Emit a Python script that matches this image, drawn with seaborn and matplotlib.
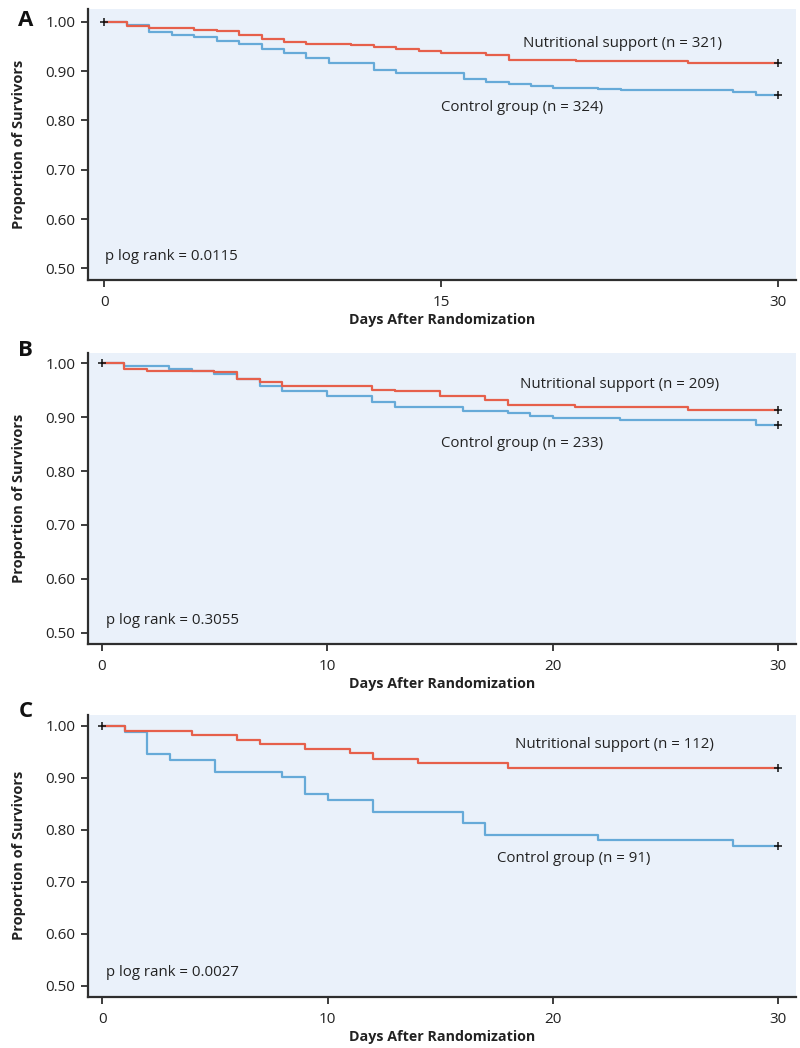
import numpy as np
import pandas as pd
import matplotlib
matplotlib.use("Agg")
import matplotlib.pyplot as plt
import seaborn as sns

# ---------------- data ----------------
# Panel A
a_nut_days = [0, 1, 2, 4, 5, 6, 7, 8, 9, 11, 12, 13, 14, 15, 17, 18, 21, 26, 30]
a_nut_surv = [1.0, 0.992, 0.987, 0.983, 0.981, 0.973, 0.965, 0.959, 0.955, 0.953, 0.948,
              0.944, 0.940, 0.936, 0.932, 0.922, 0.920, 0.916, 0.916]
a_ctl_days = [0, 1, 2, 3, 4, 5, 6, 7, 8, 9, 10, 12, 13, 16, 17, 18, 19, 20, 22, 23, 28, 29, 30]
a_ctl_surv = [1.0, 0.994, 0.979, 0.974, 0.968, 0.960, 0.955, 0.944, 0.936, 0.926, 0.917,
              0.902, 0.896, 0.883, 0.878, 0.873, 0.869, 0.866, 0.863, 0.861, 0.857, 0.852, 0.852]
# Panel B
b_nut_days = [0, 1, 2, 5, 6, 7, 8, 12, 13, 15, 17, 18, 21, 26, 30]
b_nut_surv = [1.0, 0.990, 0.986, 0.983, 0.971, 0.966, 0.957, 0.951, 0.948, 0.939, 0.932,
              0.923, 0.919, 0.913, 0.913]
b_ctl_days = [0, 1, 3, 4, 5, 6, 7, 8, 10, 12, 13, 16, 18, 19, 20, 23, 29, 30]
b_ctl_surv = [1.0, 0.995, 0.989, 0.985, 0.980, 0.971, 0.957, 0.948, 0.940, 0.928, 0.919, 0.911,
              0.907, 0.903, 0.898, 0.894, 0.885, 0.885]
# Panel C
c_nut_days = [0, 1, 4, 6, 7, 9, 11, 12, 14, 18, 30]
c_nut_surv = [1.0, 0.990, 0.983, 0.972, 0.965, 0.956, 0.948, 0.937, 0.929, 0.919, 0.919]
c_ctl_days = [0, 1, 2, 3, 5, 8, 9, 10, 12, 16, 17, 22, 28, 30]
c_ctl_surv = [1.0, 0.988, 0.945, 0.934, 0.912, 0.901, 0.868, 0.858, 0.834, 0.813, 0.791,
              0.780, 0.769, 0.769]

panel_letters = ["A", "B", "C"]
nut_labels = ["Nutritional support (n = 321)", "Nutritional support (n = 209)",
              "Nutritional support (n = 112)"]
ctl_labels = ["Control group (n = 324)", "Control group (n = 233)", "Control group (n = 91)"]
p_labels = ["p log rank = 0.0115", "p log rank = 0.3055", "p log rank = 0.0027"]
x_ticks = [[0, 15, 30], [0, 10, 20, 30], [0, 10, 20, 30]]
y_ticks = [0.50, 0.60, 0.70, 0.80, 0.90, 1.00]

# ---------------- style ----------------
sns.set_theme(style="ticks")
plt.rcParams["font.family"] = ["Open Sans", "DejaVu Sans"]

RED = "#E6604B"
BLUE = "#66AAD8"
BG = "#EAF1FA"
SPINE = "#2E2E2E"
TXT = "#222222"

fig = plt.figure(figsize=(8.0, 10.48), dpi=100)

# axes rectangles [left, bottom, width, height] in figure fraction
rects = [
    [0.110, 0.7328, 0.885, 0.2583],
    [0.110, 0.3855, 0.885, 0.2780],
    [0.110, 0.0490, 0.885, 0.2687],
]
xlims = [(-0.73, 30.80), (-0.61, 30.79), (-0.63, 30.79)]
ylims = [(0.4763, 1.0251), (0.479, 1.0197), (0.4795, 1.0206)]
letter_y = [20.7, 350, 711.7]
nut_pos = [(18.63, 0.955), (18.55, 0.961), (18.32, 0.964)]
ctl_pos = [(14.98, 0.826), (15.05, 0.852), (17.50, 0.744)]
p_pos = [(0.03, 0.525), (0.18, 0.522), (0.15, 0.525)]

data = [
    (a_nut_days, a_nut_surv, a_ctl_days, a_ctl_surv),
    (b_nut_days, b_nut_surv, b_ctl_days, b_ctl_surv),
    (c_nut_days, c_nut_surv, c_ctl_days, c_ctl_surv),
]

for i, (nd, ns, cd, cs) in enumerate(data):
    ax = fig.add_axes(rects[i])
    ax.set_facecolor(BG)

    df_c = pd.DataFrame({"day": cd, "surv": cs})
    df_n = pd.DataFrame({"day": nd, "surv": ns})
    sns.lineplot(data=df_c, x="day", y="surv", ax=ax, color=BLUE, lw=1.6,
                 drawstyle="steps-post", estimator=None, sort=False)
    sns.lineplot(data=df_n, x="day", y="surv", ax=ax, color=RED, lw=1.6,
                 drawstyle="steps-post", estimator=None, sort=False)

    # censoring marks at start and end
    marks = pd.DataFrame({"day": [nd[0], nd[-1], cd[-1]],
                          "surv": [ns[0], ns[-1], cs[-1]]})
    sns.scatterplot(data=marks, x="day", y="surv", ax=ax, marker="+", s=28,
                    color="#111111", linewidth=1.1, zorder=5)

    ax.set_xlim(*xlims[i])
    ax.set_ylim(*ylims[i])
    ax.set_xticks(x_ticks[i])
    ax.set_yticks(y_ticks)
    ax.set_yticklabels([f"{v:.2f}" for v in y_ticks])

    for s in ["top", "right"]:
        ax.spines[s].set_visible(False)
    for s in ["left", "bottom"]:
        ax.spines[s].set_color(SPINE)
        ax.spines[s].set_linewidth(1.6)

    ax.tick_params(axis="both", direction="out", length=5, width=1.3, color=SPINE,
                   labelsize=11, labelcolor=TXT, pad=4)
    ax.tick_params(axis="x", pad=6)

    ax.set_xlabel("Days After Randomization", fontsize=10.3, fontweight="bold", color=TXT)
    ax.set_ylabel("Proportion of Survivors", fontsize=10.5, fontweight="bold", color=TXT)
    ax.yaxis.set_label_coords(-0.088, 0.5)
    h_px = rects[i][3] * 1048
    ax.xaxis.set_label_coords(0.5, -(33.0 / h_px))
    ax.xaxis.label.set_va("top")

    ax.text(nut_pos[i][0], nut_pos[i][1], nut_labels[i], fontsize=10.8, color=TXT,
            ha="left", va="center")
    ax.text(ctl_pos[i][0], ctl_pos[i][1], ctl_labels[i], fontsize=10.8, color=TXT,
            ha="left", va="center")
    ax.text(p_pos[i][0], p_pos[i][1], p_labels[i], fontsize=10.8, color=TXT,
            ha="left", va="center")

    fig.text(25.5 / 800, 1 - letter_y[i] / 1048, panel_letters[i], fontsize=16,
             fontweight="bold", color="#111111", ha="center", va="center")

fig.savefig("out.png", dpi=100)
